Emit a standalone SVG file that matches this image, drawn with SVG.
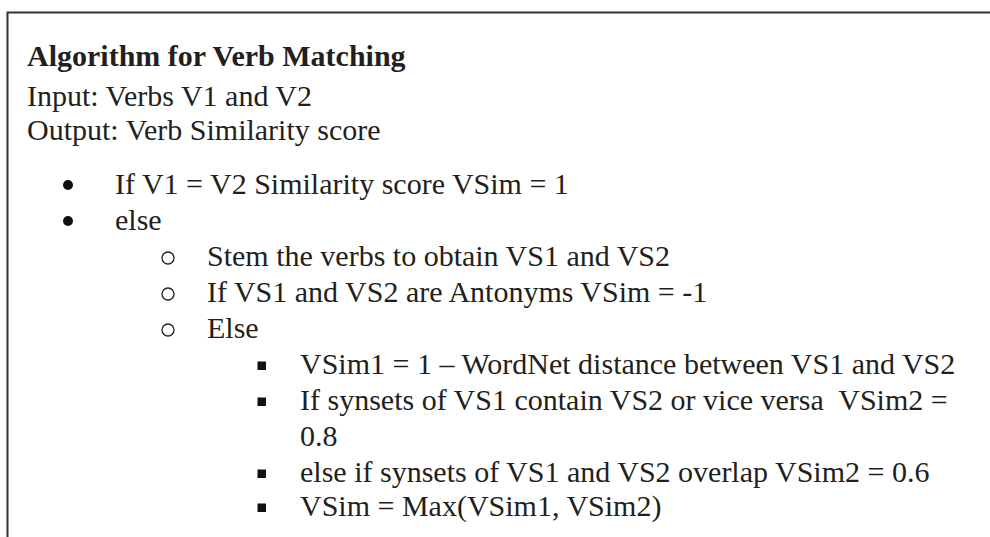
<svg xmlns="http://www.w3.org/2000/svg" width="990" height="537" viewBox="0 0 990 537">
<style>
text{font-family:"Liberation Serif","Times New Roman",serif;font-size:30px;fill:#231f20}
.t{font-weight:bold}
.b{fill:#111}
.o{fill:none;stroke:#231f20;stroke-width:1.3}
</style>
<rect width="990" height="537" fill="#fff"/>
<g id="frame"><path d="M7.5 537 V12.5 H990" fill="none" stroke="#333" stroke-width="2"/></g>
<g id="title"><text class="t" x="27" y="66">Algorithm for Verb Matching</text></g>
<g id="io">
<text x="27" y="106">Input: Verbs V1 and V2</text>
<text x="27" y="140">Output: Verb Similarity score</text>
</g>
<g id="level1">
<circle class="b" cx="68" cy="185" r="5"/>
<text x="115" y="194">If V1 = V2 Similarity score VSim = 1</text>
<circle class="b" cx="68" cy="221" r="5"/>
<text x="115" y="230">else</text>
</g>
<g id="level2">
<circle class="o" cx="168" cy="258" r="6"/>
<text x="207" y="266">Stem the verbs to obtain VS1 and VS2</text>
<circle class="o" cx="168" cy="294" r="6"/>
<text x="207" y="302">If VS1 and VS2 are Antonyms VSim = -1</text>
<circle class="o" cx="168" cy="330" r="6"/>
<text x="207" y="338">Else</text>
</g>
<g id="level3">
<rect class="b" x="257.5" y="361.5" width="8.5" height="8.5"/>
<text x="300" y="374">VSim1 = 1 – WordNet distance between VS1 and VS2</text>
<rect class="b" x="257.5" y="397.5" width="8.5" height="8.5"/>
<text x="300" y="410" xml:space="preserve">If synsets of VS1 contain VS2 or vice versa  VSim2 =</text>
<text x="300" y="446">0.8</text>
<rect class="b" x="257.5" y="469.5" width="8.5" height="8.5"/>
<text x="300" y="482">else if synsets of VS1 and VS2 overlap VSim2 = 0.6</text>
<rect class="b" x="257.5" y="503.5" width="8.5" height="8.5"/>
<text x="300" y="516">VSim = Max(VSim1, VSim2)</text>
</g>
</svg>
